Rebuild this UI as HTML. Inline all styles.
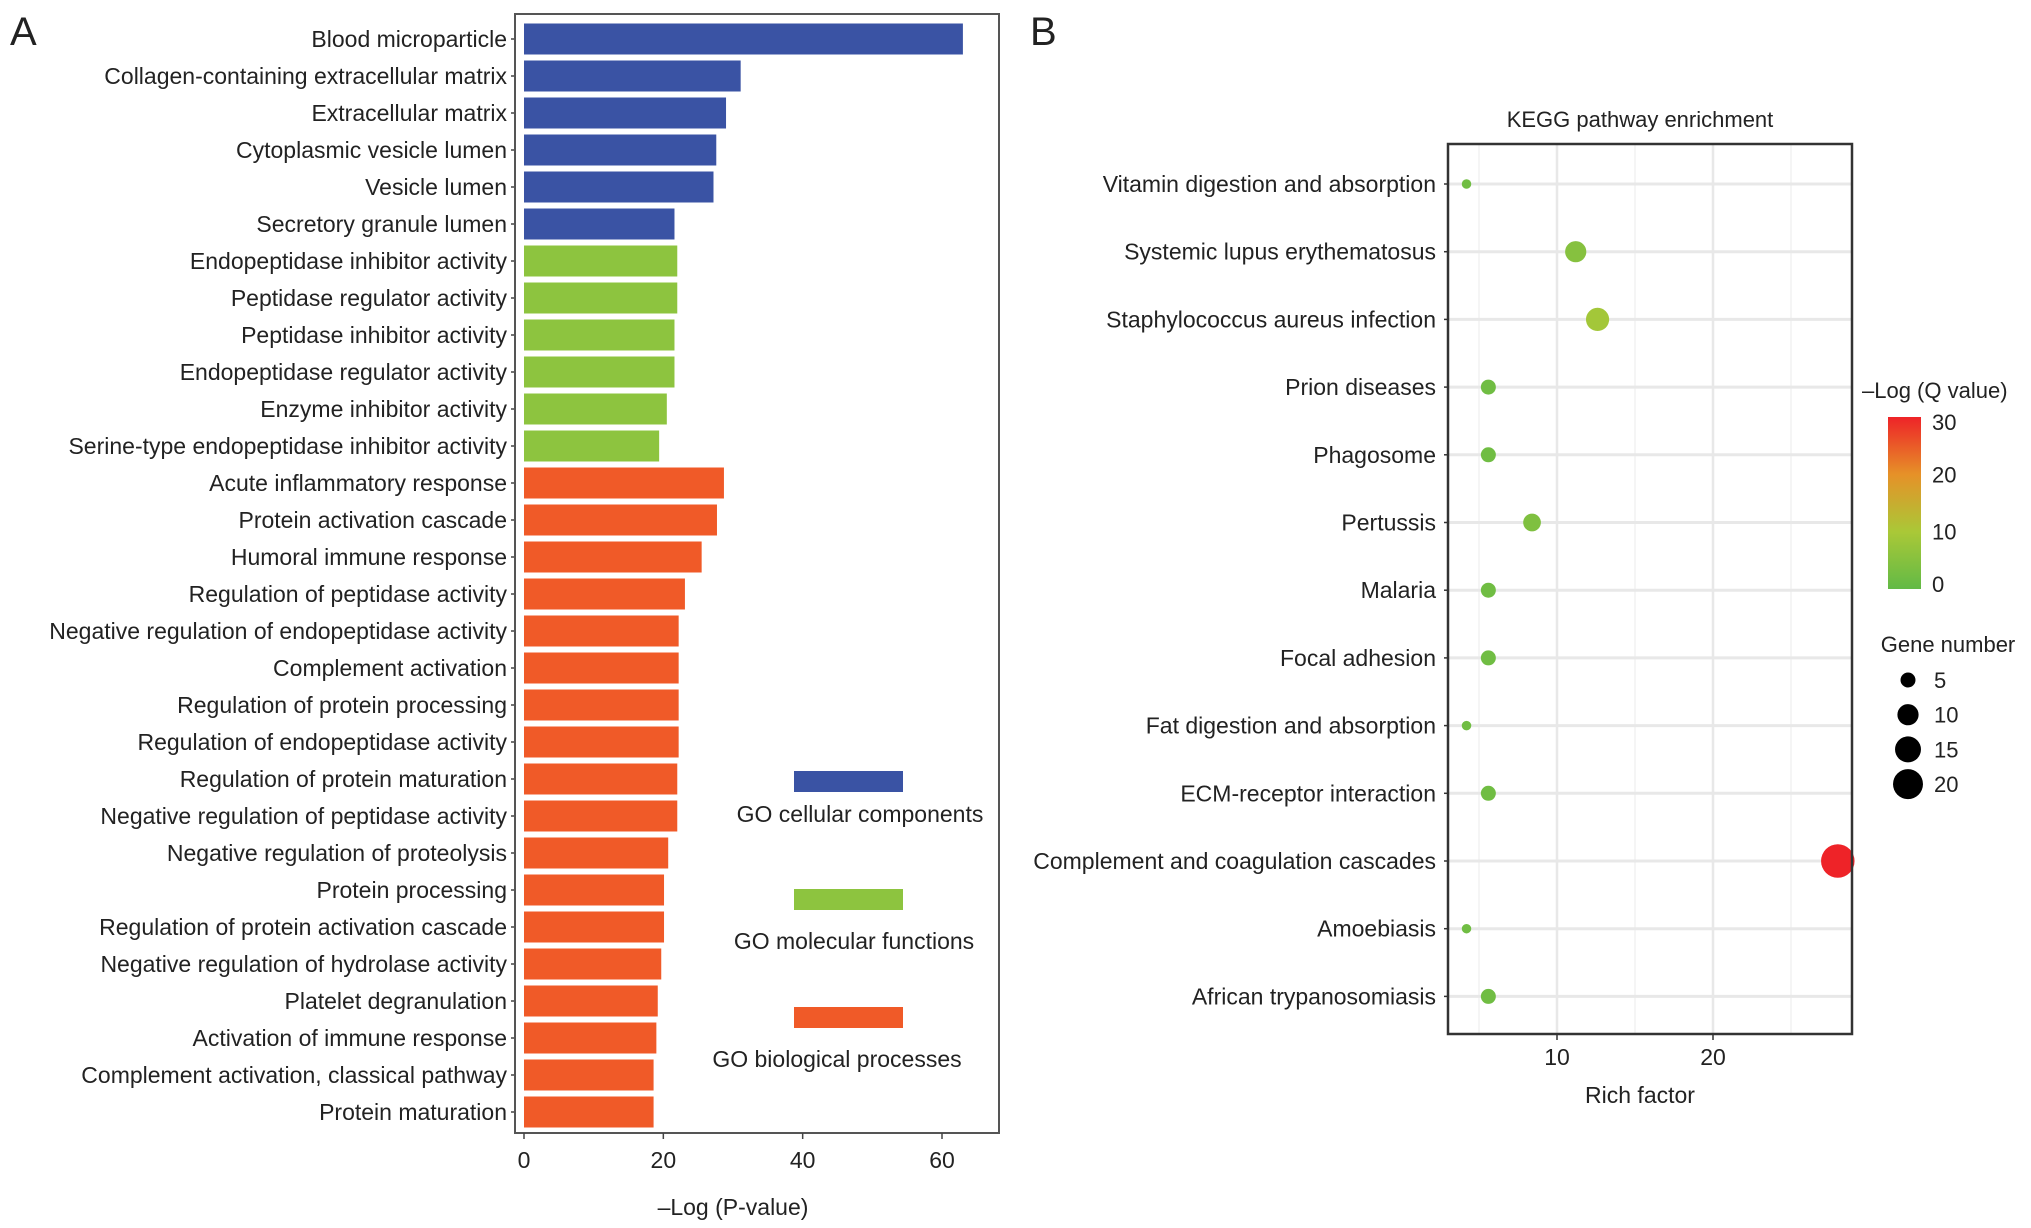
<!DOCTYPE html>
<html><head><meta charset="utf-8"><style>
body{margin:0;background:#fff;}
svg{display:block;font-family:"Liberation Sans",Arial,sans-serif;}
</style></head><body>
<svg id="s" width="2031" height="1228" viewBox="0 0 2031 1228"></svg>
<script>
const goTerms=["Blood microparticle","Collagen-containing extracellular matrix","Extracellular matrix","Cytoplasmic vesicle lumen","Vesicle lumen","Secretory granule lumen","Endopeptidase inhibitor activity","Peptidase regulator activity","Peptidase inhibitor activity","Endopeptidase regulator activity","Enzyme inhibitor activity","Serine-type endopeptidase inhibitor activity","Acute inflammatory response","Protein activation cascade","Humoral immune response","Regulation of peptidase activity","Negative regulation of endopeptidase activity","Complement activation","Regulation of protein processing","Regulation of endopeptidase activity","Regulation of protein maturation","Negative regulation of peptidase activity","Negative regulation of proteolysis","Protein processing","Regulation of protein activation cascade","Negative regulation of hydrolase activity","Platelet degranulation","Activation of immune response","Complement activation, classical pathway","Protein maturation"];
const goValues=[63,31.1,29,27.6,27.2,21.6,22,22,21.6,21.6,20.5,19.4,28.7,27.7,25.5,23.1,22.2,22.2,22.2,22.2,22,22,20.7,20.1,20.1,19.7,19.2,19,18.6,18.6];
const goGroups=["cc","cc","cc","cc","cc","cc","mf","mf","mf","mf","mf","mf","bp","bp","bp","bp","bp","bp","bp","bp","bp","bp","bp","bp","bp","bp","bp","bp","bp","bp"];
const goTicks=[0,20,40,60];
const keggPaths=["Vitamin digestion and absorption","Systemic lupus erythematosus","Staphylococcus aureus infection","Prion diseases","Phagosome","Pertussis","Malaria","Focal adhesion","Fat digestion and absorption","ECM-receptor interaction","Complement and coagulation cascades","Amoebiasis","African trypanosomiasis"];
const keggRich=[4.2,11.2,12.6,5.6,5.6,8.4,5.6,5.6,4.2,5.6,28,4.2,5.6];
const keggGenes=[2,10,12,5,5,7,5,5,2,5,25,2,5];
const keggQ=[2,5,9,2,2,4,2,2,2,2,30,2,2];
const richTicks=[10,20];
const colorTicks=[0,10,20,30];
const sizeTicks=[5,10,15,20];

const S=document.getElementById('s');const NS='http://www.w3.org/2000/svg';
function mk(t,a,p){const e=document.createElementNS(NS,t);for(const k in a)e.setAttribute(k,a[k]);(p||S).appendChild(e);return e;}
function txt(x,y,s,sz,anchor,extra){const e=mk('text',Object.assign({x:x,y:y,'font-size':sz,'text-anchor':anchor||'start',fill:'#222'},extra||{}));e.textContent=s;return e;}

// Panel A
let t=txt(10,45,'A',40);
const ax={l:515,r:999,t:14,b:1133,x0:524,k:(942-524)/60,y0:39,dy:37,bh:31};
const fx=v=>ax.x0+v*ax.k;
const col={cc:'#3a53a4',mf:'#8dc43f',bp:'#f05a28'};
goValues.forEach((v,i)=>{const y=ax.y0+i*ax.dy;
 const b=mk('rect',{x:fx(0),y:y-ax.bh/2,width:fx(v)-fx(0),height:ax.bh,fill:col[goGroups[i]]});
 
 
 mk('line',{x1:ax.l-4,x2:ax.l,y1:y,y2:y,stroke:'#444','stroke-width':1.5});
 const l=txt(ax.l-8,y+8,goTerms[i],23,'end');
 
});
let f=mk('rect',{x:ax.l,y:ax.t,width:ax.r-ax.l,height:ax.b-ax.t,fill:'none',stroke:'#555','stroke-width':2});

goTicks.forEach(v=>{mk('line',{x1:fx(v),x2:fx(v),y1:ax.b,y2:ax.b+6,stroke:'#444','stroke-width':1.5});
 const l=txt(fx(v),1168,String(v),23,'middle');});
t=txt(733,1215,'\u2013Log (P-value)',23,'middle');
[['cc','GO cellular components',771,860,822],['mf','GO molecular functions',889,854,949],['bp','GO biological processes',1007,837,1067]].forEach(d=>{
 const r=mk('rect',{x:794,y:d[2],width:109,height:21,fill:col[d[0]]});
 const l=txt(d[3],d[4],d[1],23,'middle');});

// Panel B
t=txt(1030,45,'B',40);
const bx={l:1448,r:1852,t:144,b:1034,y0:184,dy:67.7};
const rx=v=>1557+(v-10)*15.6;
t=txt(1640,127,'KEGG pathway enrichment',22,'middle');
[5,15,25].forEach(v=>mk('line',{x1:rx(v),x2:rx(v),y1:bx.t,y2:bx.b,stroke:'#f2f2f2','stroke-width':1.5}));
richTicks.forEach(v=>mk('line',{x1:rx(v),x2:rx(v),y1:bx.t,y2:bx.b,stroke:'#e8e8e8','stroke-width':2.5}));
keggPaths.forEach((p,i)=>{const y=bx.y0+i*bx.dy;
 mk('line',{x1:bx.l,x2:bx.r,y1:y,y2:y,stroke:'#e8e8e8','stroke-width':3});
 mk('line',{x1:bx.l-4,x2:bx.l,y1:y,y2:y,stroke:'#333','stroke-width':1.5});
 const l=txt(bx.l-12,y+8,p,23,'end');});
function qcol(q){const st=[[0,[98,186,70]],[10,[170,200,55]],[20,[230,145,40]],[30,[238,35,40]]];
 q=Math.max(0,Math.min(30,q));for(let i=0;i<3;i++){if(q<=st[i+1][0]){const a=(q-st[i][0])/10;const c=st[i][1].map((x,j)=>Math.round(x+(st[i+1][1][j]-x)*a));return 'rgb('+c.join(',')+')';}}}
const rs=n=>3.35*Math.sqrt(n);
keggRich.forEach((v,i)=>{const c=mk('circle',{cx:rx(v),cy:bx.y0+i*bx.dy,r:rs(keggGenes[i]),fill:qcol(keggQ[i])});
 
 });
f=mk('rect',{x:bx.l,y:bx.t,width:bx.r-bx.l,height:bx.b-bx.t,fill:'none',stroke:'#333','stroke-width':2.5});

richTicks.forEach(v=>{mk('line',{x1:rx(v),x2:rx(v),y1:bx.b,y2:bx.b+6,stroke:'#333','stroke-width':1.5});
 const l=txt(rx(v),1065,String(v),23,'middle');});
t=txt(1640,1103,'Rich factor',23,'middle');
// colorbar
t=txt(1862,398,'\u2013Log (Q value)',22);
const defs=mk('defs',{});const g=mk('linearGradient',{id:'cg',x1:0,y1:1,x2:0,y2:0},defs);
[0,10,20,30].forEach(v=>mk('stop',{offset:v/30,'stop-color':qcol(v)},g));
const cb={x:1888,w:33,top:417,bot:589};
const cr=mk('rect',{x:cb.x,y:cb.top,width:cb.w,height:cb.bot-cb.top,fill:'url(#cg)'});
colorTicks.forEach(v=>{const y=cb.bot-(v/30)*(cb.bot-cb.top)-(v==30?-5:0)+(v==0?-5:0);
 const l=txt(1932,y+8,String(v),22);});
t=txt(1948,652,'Gene number',22,'middle');
sizeTicks.forEach((v,i)=>{const y=680+i*34.7;
 const c=mk('circle',{cx:1908,cy:y,r:rs(v),fill:'#000'});
 const l=txt(1934,y+8,String(v),22);});
</script>
</body></html>
